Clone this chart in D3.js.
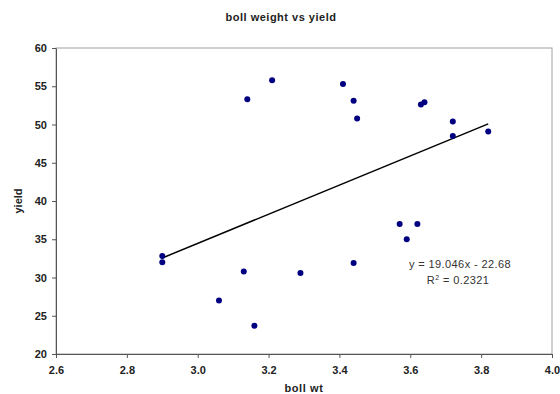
<!DOCTYPE html>
<html>
<head>
<meta charset="utf-8">
<script src="https://cdn.jsdelivr.net/npm/d3@7"></script>
<style>
  html, body { margin: 0; padding: 0; background: #fff; }
  svg { display: block; font-family: "Liberation Sans", Arial, sans-serif; }
</style>
</head>
<body>
<svg id="chart"></svg>
<script>
const bollWt = [2.90, 2.90, 3.06, 3.13, 3.14, 3.16, 3.21, 3.29, 3.41, 3.44, 3.44, 3.45, 3.57, 3.59, 3.62, 3.63, 3.64, 3.72, 3.72, 3.82];
const yieldVals = [32.8, 32.0, 27.0, 30.8, 53.3, 23.7, 55.8, 30.6, 55.3, 53.1, 31.9, 50.8, 37.0, 35.0, 37.0, 52.6, 52.9, 50.4, 48.5, 49.1];
const trend = { slope: 19.046, intercept: -22.68, r2: "0.2321" };
const xTicks = [2.6, 2.8, 3.0, 3.2, 3.4, 3.6, 3.8, 4.0];
const yTicks = [20, 25, 30, 35, 40, 45, 50, 55, 60];

const W = 560, H = 394;
const M = { top: 48, right: 8, bottom: 40, left: 56 };

const svg = d3.select("#chart").attr("width", W).attr("height", H);

const x = d3.scaleLinear().domain([2.6, 4.0]).range([M.left, W - M.right]);
const y = d3.scaleLinear().domain([20, 60]).range([H - M.bottom, M.top]);

// plot border (top/right lighter)
svg.append("rect")
  .attr("x", x(2.6)).attr("y", y(60))
  .attr("width", x(4.0) - x(2.6)).attr("height", y(20) - y(60))
  .attr("fill", "none").attr("stroke", "#a0a0a0").attr("stroke-width", 1);

// axes
const xAxis = svg.append("g")
  .attr("transform", `translate(0,${y(20)})`)
  .call(d3.axisBottom(x).tickValues(xTicks).tickFormat(d3.format(".1f")).tickSize(4).tickSizeOuter(0));
const yAxis = svg.append("g")
  .attr("transform", `translate(${x(2.6)},0)`)
  .call(d3.axisLeft(y).tickValues(yTicks).tickSize(4).tickSizeOuter(0));

[xAxis, yAxis].forEach(g => {
  g.select(".domain").attr("stroke", "#555");
  g.selectAll(".tick line").attr("stroke", "#555");
  g.selectAll(".tick text")
    .attr("font-family", "Liberation Sans, Arial, sans-serif")
    .attr("font-size", "11px").attr("font-weight", "bold").attr("fill", "#222");
});
xAxis.selectAll(".tick text").attr("y", 20).attr("dy", 0);
yAxis.selectAll(".tick text").attr("x", -9);

// trend line
const xr = d3.extent(bollWt);
svg.append("line")
  .attr("x1", x(xr[0])).attr("y1", y(trend.slope * xr[0] + trend.intercept))
  .attr("x2", x(xr[1])).attr("y2", y(trend.slope * xr[1] + trend.intercept))
  .attr("stroke", "#000").attr("stroke-width", 1.5);

// points
svg.selectAll("circle.pt")
  .data(bollWt.map((v, i) => [v, yieldVals[i]]))
  .join("circle")
  .attr("class", "pt")
  .attr("cx", d => x(d[0])).attr("cy", d => y(d[1]))
  .attr("r", 3).attr("fill", "#000080");

// title & labels
svg.append("text").attr("x", 281).attr("y", 21)
  .attr("text-anchor", "middle").attr("font-size", "11px").attr("font-weight", "bold")
  .attr("fill", "#222").attr("letter-spacing", "0.5px").text("boll weight vs yield");
svg.append("text").attr("x", (x(2.6) + x(4.0)) / 2).attr("y", 392)
  .attr("text-anchor", "middle").attr("font-size", "11px").attr("font-weight", "bold")
  .attr("fill", "#222").attr("letter-spacing", "0.6px").text("boll wt");
svg.append("text").attr("transform", `translate(22,${(y(20) + y(60)) / 2}) rotate(-90)`)
  .attr("text-anchor", "middle").attr("font-size", "11px").attr("font-weight", "bold")
  .attr("fill", "#222").text("yield");

// equation
svg.append("text").attr("x", 460).attr("y", 268)
  .attr("text-anchor", "middle").attr("font-size", "11px").attr("fill", "#333")
  .attr("letter-spacing", "0.4px")
  .text(`y = ${trend.slope}x - ${Math.abs(trend.intercept)}`);
const r2 = svg.append("text").attr("x", 458).attr("y", 284)
  .attr("text-anchor", "middle").attr("font-size", "11px").attr("fill", "#333")
  .attr("letter-spacing", "0.4px");
r2.append("tspan").text("R");
r2.append("tspan").attr("font-size", "7px").attr("dy", "-4").text("2");
r2.append("tspan").attr("dy", "4").text(` = ${trend.r2}`);
</script>
</body>
</html>
